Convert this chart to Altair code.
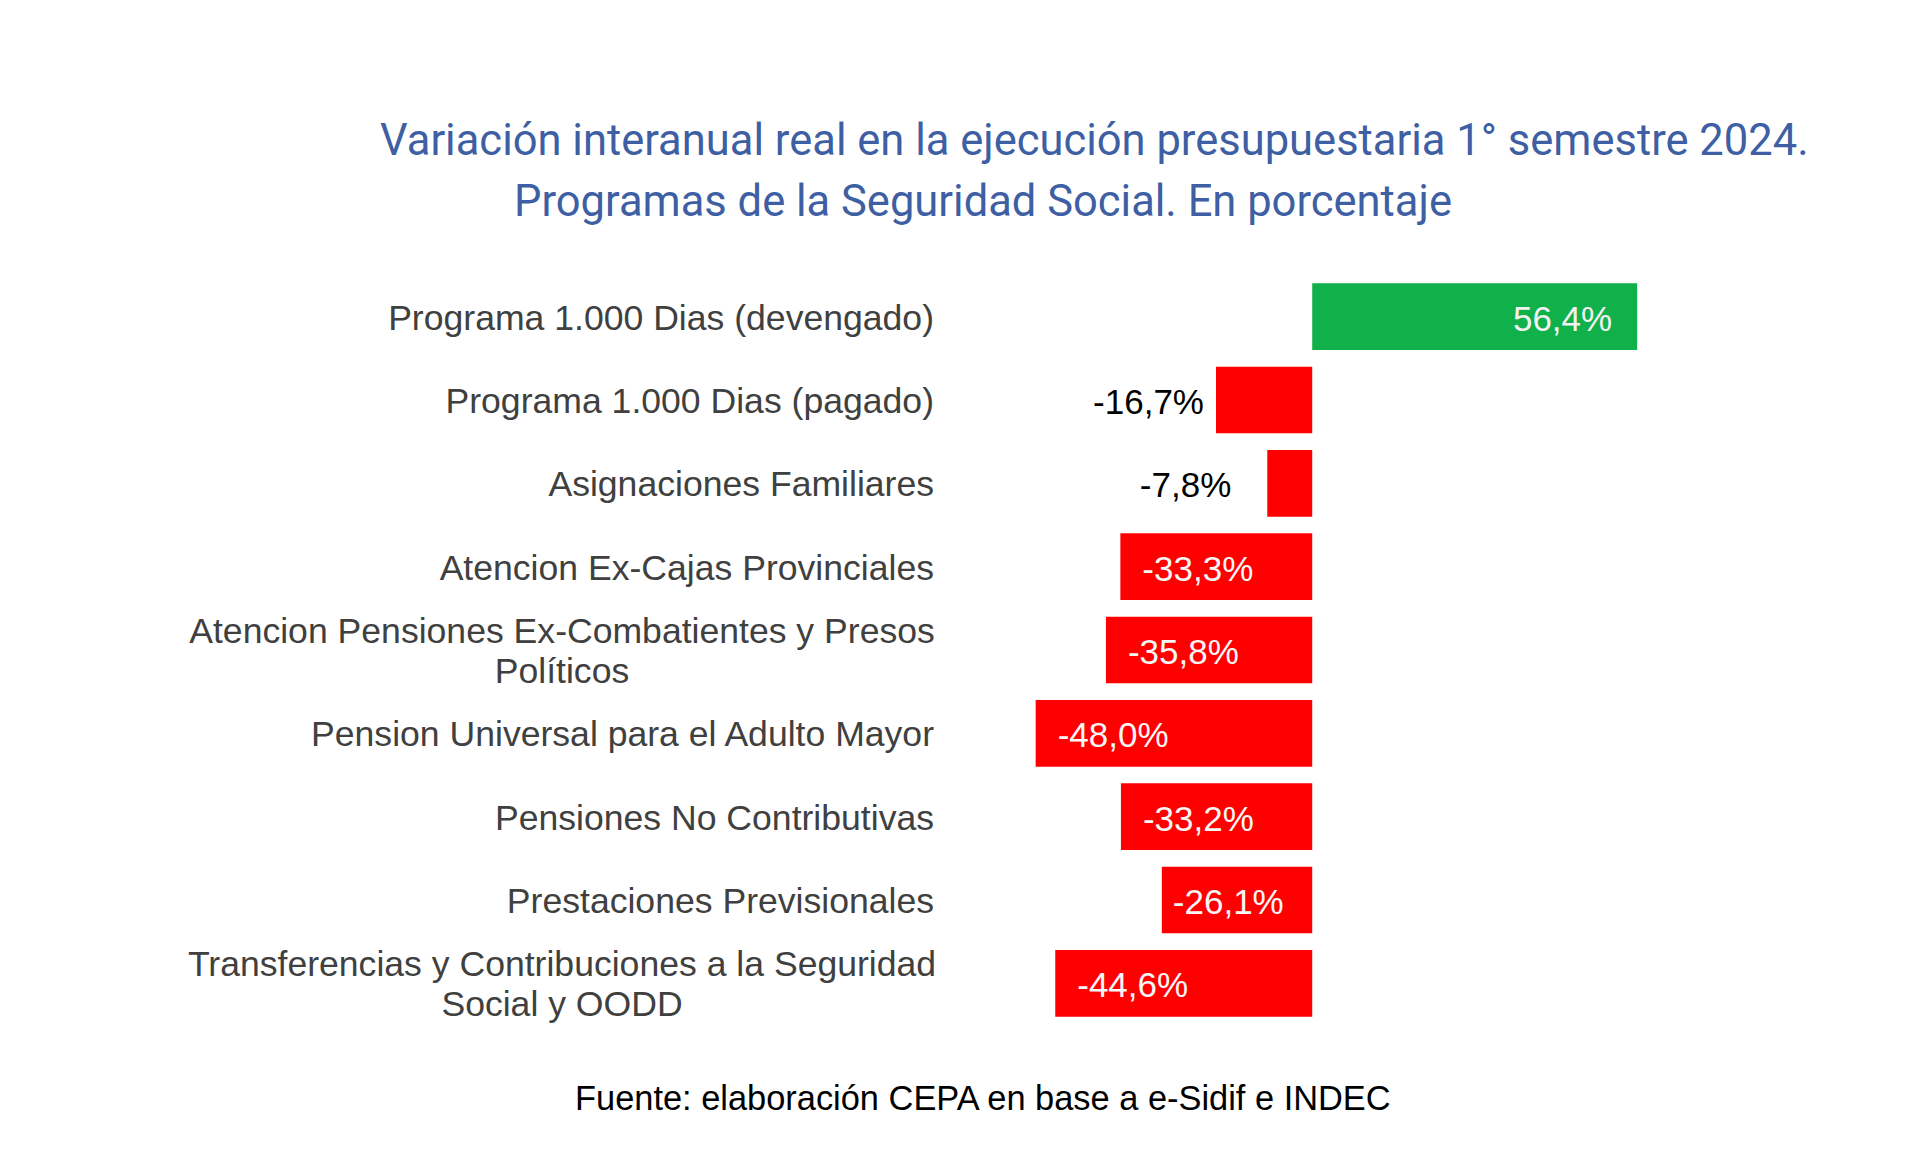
import altair as alt
import pandas as pd

categories = [
    "Programa 1.000 Dias (devengado)",
    "Programa 1.000 Dias (pagado)",
    "Asignaciones Familiares",
    "Atencion Ex-Cajas Provinciales",
    "Atencion Pensiones Ex-Combatientes y Presos\nPolíticos",
    "Pension Universal para el Adulto Mayor",
    "Pensiones No Contributivas",
    "Prestaciones Previsionales",
    "Transferencias y Contribuciones a la Seguridad\nSocial y OODD",
]
values = [56.4, -16.7, -7.8, -33.3, -35.8, -48.0, -33.2, -26.1, -44.6]
value_labels = ["56,4%", "-16,7%", "-7,8%", "-33,3%", "-35,8%", "-48,0%", "-33,2%", "-26,1%", "-44,6%"]
label_place = ["inside_end", "outside", "outside_far", "inside", "inside", "inside", "inside", "inside_near", "inside"]

title_line1 = "Variación interanual real en la ejecución presupuestaria 1° semestre 2024."
title_line2 = "Programas de la Seguridad Social. En porcentaje"
source_text = "Fuente: elaboración CEPA en base a e-Sidif e INDEC"

df = pd.DataFrame({
    "cat": categories,
    "value": values,
    "label": value_labels,
    "place": label_place,
    "multi": ["\n" in c for c in categories],
    "sign": ["pos" if v >= 0 else "neg" for v in values],
})

base = alt.Chart(df)
y_enc = alt.Y("cat:N", sort=categories, axis=None,
              scale=alt.Scale(paddingInner=0.2, paddingOuter=0.1))
x_scale = alt.Scale(domain=[-62, 68])

bars = base.mark_bar().encode(
    y=y_enc,
    x=alt.X("value:Q", scale=x_scale, axis=None),
    x2=alt.datum(0),
    color=alt.Color("sign:N", scale=alt.Scale(domain=["pos", "neg"], range=["#10B04A", "#FF0000"]), legend=None),
)

lab_font = dict(font="Liberation Sans", fontSize=35)

def val_layer(place, align, dx, color):
    return base.transform_filter(alt.datum.place == place).mark_text(
        align=align, baseline="middle", dx=dx, dy=3, color=color, **lab_font
    ).encode(y=y_enc, x=alt.X("value:Q", scale=x_scale, axis=None), text="label:N")

vals = (
    val_layer("inside_end", "right", -25, "#F2F2F2")
    + val_layer("outside", "right", -12, "#000000")
    + val_layer("outside_far", "right", -36, "#000000")
    + val_layer("inside", "left", 22, "#F7F7F7")
    + val_layer("inside_near", "left", 11, "#F7F7F7")
)

cat_single = base.transform_filter(alt.datum.multi == False).mark_text(
    align="right", baseline="middle", color="#404040", font="Liberation Sans", fontSize=35.6, dy=2
).encode(y=y_enc, x=alt.value(-21), text="cat:N")

cat_multi = base.transform_filter(alt.datum.multi == True).mark_text(
    align="center", baseline="middle", color="#404040", font="Liberation Sans", fontSize=35.6,
    lineBreak="\n", lineHeight=40, dy=-18
).encode(y=y_enc, x=alt.value(-393), text="cat:N")

t1 = alt.Chart(pd.DataFrame({"t": [title_line1]})).mark_text(
    align="left", baseline="middle", font="Roboto", fontSize=43.5, color="#3E5FA3"
).encode(x=alt.value(-575), y=alt.value(-133), text="t:N")

t2 = alt.Chart(pd.DataFrame({"t": [title_line2]})).mark_text(
    align="left", baseline="middle", font="Roboto", fontSize=43.5, color="#3E5FA3"
).encode(x=alt.value(-441), y=alt.value(-72), text="t:N")

src = alt.Chart(pd.DataFrame({"t": [source_text]})).mark_text(
    align="left", baseline="middle", font="Liberation Sans", fontSize=34.4, color="#000000"
).encode(x=alt.value(-380), y=alt.value(825), text="t:N")

chart = alt.layer(bars, vals, cat_single, cat_multi, t1, t2, src).properties(
    width=749, height=750,
    autosize=alt.AutoSizeParams(type="none"),
    padding={"left": 947, "top": 267, "right": 200, "bottom": 120},
    background="white",
).configure_view(stroke=None)

chart.save("out.html", embed_options={"renderer": "svg", "actions": False})
